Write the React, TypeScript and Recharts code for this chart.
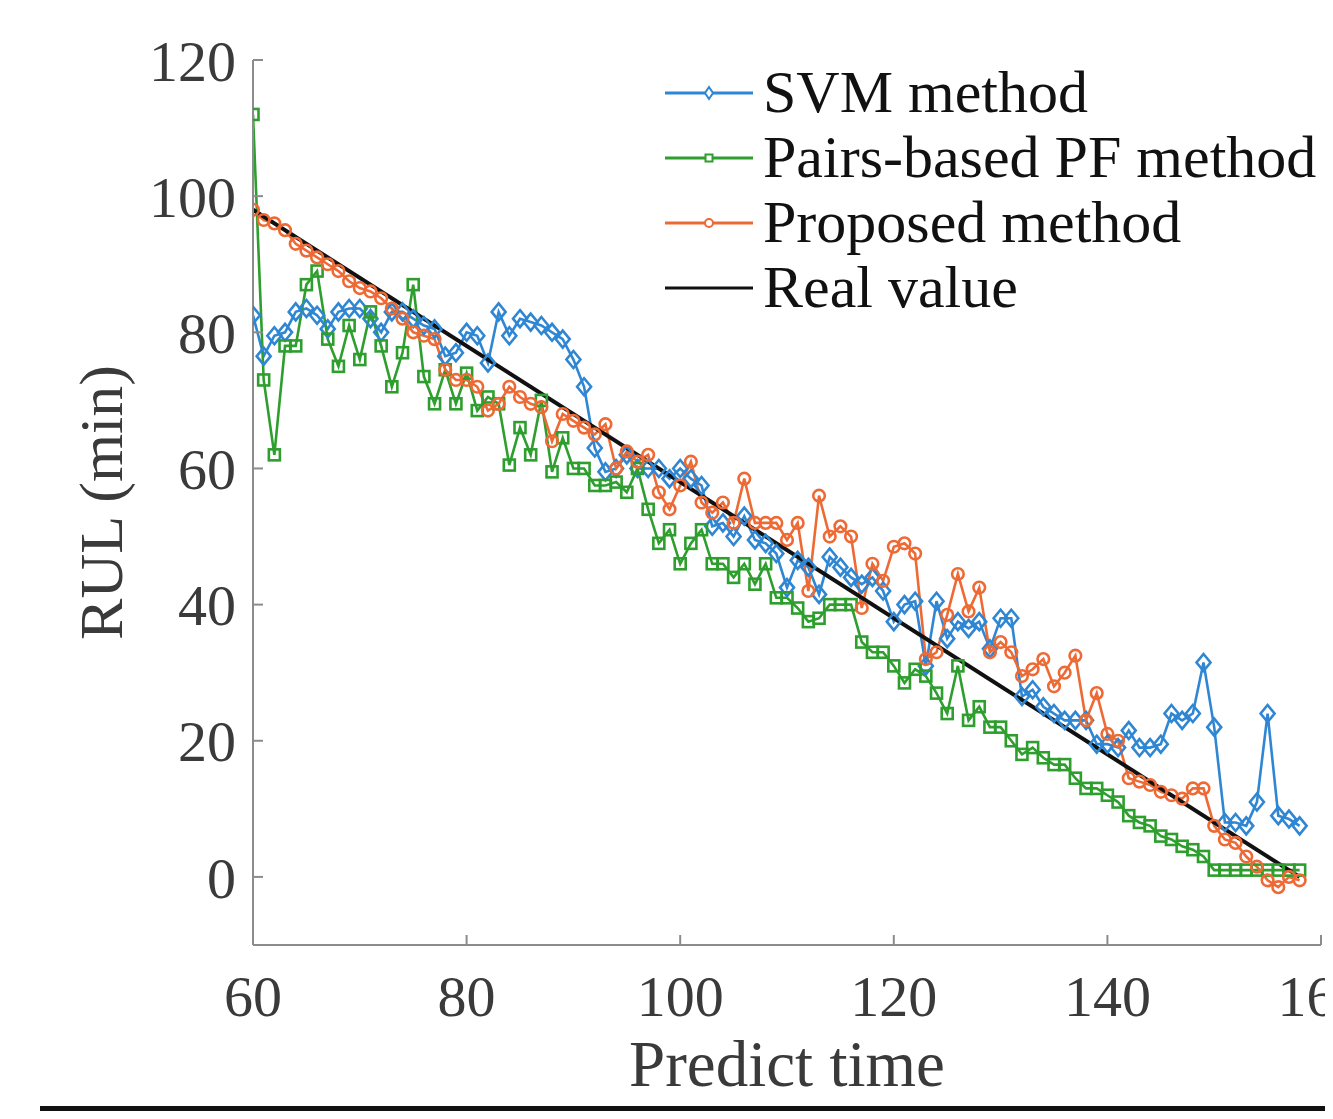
import { LineChart, Line, XAxis, YAxis, Legend, Label } from 'recharts';

const FONT = "'Liberation Serif', 'Times New Roman', serif";

const startTime = 60;
const xTicks = [60, 80, 100, 120, 140, 160];
const yTicks = [0, 20, 40, 60, 80, 100, 120];

// RUL predictions, one value per predict time starting at 60
const svmValues = [
  82.5, 76.5, 79.5, 80, 83, 83.5, 82.5, 80.5, 83, 83.5,
  83.5, 82, 80, 83, 83, 82, 81, 80.5, 76.5, 77,
  80, 79.5, 75.5, 83, 79.5, 82, 81.5, 81, 80, 79,
  76, 72, 63, 59.5, 60, 62, 60, 60, 60, 58.5,
  60, 58.5, 57.5, 51.5, 52, 50, 53, 49.5, 49, 47.5,
  42.5, 46.5, 45.5, 41.5, 47, 45.5, 44, 43, 44, 42,
  37.5, 40, 40.5, 31, 40.5, 35, 37.5, 36.5, 37.5, 33.5,
  38, 38, 26.5, 27.5, 25, 24, 23, 23, 23, 19.5,
  19.5, 19, 21.5, 19, 19, 19.5, 24, 23, 24, 31.5,
  22, 8, 8, 7.5, 11, 24, 9, 8.5, 7.5,
];

const pfValues = [
  112, 73, 62, 78, 78, 87, 89, 79, 75, 81,
  76, 83, 78, 72, 77, 87, 73.5, 69.5, 74.5, 69.5,
  74, 68.5, 70.5, 69.5, 60.5, 66, 62, 70, 59.5, 64.5,
  60, 60, 57.5, 57.5, 58, 56.5, 60, 54, 49, 51,
  46, 49, 51, 46, 46, 44, 46, 43, 46, 41,
  41, 39.5, 37.5, 38, 40, 40, 40, 34.5, 33, 33,
  31, 28.5, 30.5, 29.5, 27, 24, 31, 23, 25, 22,
  22, 20, 18, 19, 17.5, 16.5, 16.5, 14.5, 13, 13,
  12, 11, 9, 8, 7.5, 6, 5.5, 4.5, 4, 3,
  1, 1, 1, 1, 1, 1, 1, 1, 1,
];

const proposedValues = [
  98, 96.5, 96, 95, 93, 92, 91, 90, 89, 87.5,
  86.5, 86, 85, 83.5, 82, 80, 79.5, 79, 74.5, 73,
  73, 72, 68.5, 69.5, 72, 70.5, 69.5, 69, 64, 68,
  67, 66, 65, 66.5, 60, 62.5, 61, 62, 56.5, 54,
  57.5, 61, 55, 53.5, 55, 52, 58.5, 52, 52, 52,
  49.5, 52, 42, 56, 50, 51.5, 50, 39.5, 46, 43.5,
  48.5, 49, 47.5, 32, 33, 38.5, 44.5, 39, 42.5, 33,
  34.5, 33, 29.5, 30.5, 32, 28, 30, 32.5, 23, 27,
  21, 20, 14.5, 14, 13.5, 12.5, 12, 11.5, 13, 13,
  7.5, 5.5, 5, 3, 1.5, -0.5, -1.5, 0, -0.5,
];

// real RUL is a straight line between these two points
const realTimes = [60, 158];
const realValues = [98, 0];

const SVM_COLOR = '#2f86d3';
const PF_COLOR = '#2e9e2e';
const PROPOSED_COLOR = '#ee6a35';
const AXIS_COLOR = '#8c8c8c';
const TICK_COLOR = '#3a3a3a';

const rows = svmValues.map((v, i) => ({
  t: startTime + i,
  svm: v,
  pf: pfValues[i],
  proposed: proposedValues[i],
}));
const realRows = realTimes.map((t, i) => ({ t, real: realValues[i] }));

function diamond(color: string, w: number, h: number) {
  return (props: any) => {
    const { cx, cy, index } = props;
    if (cx == null || cy == null) return <g key={`d${index}`} />;
    return (
      <path
        key={`d${index}`}
        d={`M${cx},${cy - h}L${cx + w},${cy}L${cx},${cy + h}L${cx - w},${cy}Z`}
        fill="none"
        stroke={color}
        strokeWidth={2.6}
      />
    );
  };
}

function square(color: string, s: number) {
  return (props: any) => {
    const { cx, cy, index } = props;
    if (cx == null || cy == null) return <g key={`s${index}`} />;
    return <rect key={`s${index}`} x={cx - s} y={cy - s} width={s * 2} height={s * 2} fill="none" stroke={color} strokeWidth={2.6} />;
  };
}

function circle(color: string, r: number) {
  return (props: any) => {
    const { cx, cy, index } = props;
    if (cx == null || cy == null) return <g key={`c${index}`} />;
    return <circle key={`c${index}`} cx={cx} cy={cy} r={r} fill="none" stroke={color} strokeWidth={2.6} />;
  };
}

const legendItems = [
  { name: 'SVM method', color: SVM_COLOR, marker: 'diamond' },
  { name: 'Pairs-based PF method', color: PF_COLOR, marker: 'square' },
  { name: 'Proposed method', color: PROPOSED_COLOR, marker: 'circle' },
  { name: 'Real value', color: '#111', marker: 'none' },
];

function LegendBox() {
  return (
    <div style={{ fontFamily: FONT, fontSize: 60, color: '#111' }}>
      {legendItems.map((item) => (
        <div key={item.name} style={{ display: 'flex', alignItems: 'center', height: 65, whiteSpace: 'nowrap' }}>
          <svg width={88} height={20} style={{ marginRight: 10 }}>
            <line x1={0} y1={10} x2={88} y2={10} stroke={item.color} strokeWidth={3} />
            {item.marker === 'diamond' && (
              <path d="M44,4L48,10L44,16L40,10Z" fill="white" stroke={item.color} strokeWidth={2} />
            )}
            {item.marker === 'square' && (
              <rect x={40.5} y={6.5} width={7} height={7} fill="white" stroke={item.color} strokeWidth={2} />
            )}
            {item.marker === 'circle' && <circle cx={44} cy={10} r={4} fill="white" stroke={item.color} strokeWidth={2} />}
          </svg>
          <span>{item.name}</span>
        </div>
      ))}
    </div>
  );
}

export default function App() {
  return (
    <div style={{ position: 'relative', width: 1325, height: 1111, overflow: 'hidden', marginBottom: -8, background: '#fff' }}>
      <LineChart
        width={1400}
        height={1111}
        data={rows}
        margin={{ top: 52, right: 87, left: 244, bottom: 173 }}
      >
        <XAxis
          type="number"
          dataKey="t"
          domain={[60, 160]}
          ticks={xTicks}
          allowDataOverflow
          height={1}
          tickSize={-10}
          tickMargin={40}
          axisLine={{ stroke: AXIS_COLOR, strokeWidth: 2 }}
          tickLine={{ stroke: AXIS_COLOR, strokeWidth: 2 }}
          tick={{ fill: TICK_COLOR, fontSize: 58, fontFamily: FONT }}
        >
          <Label
            content={(p: any) => {
              const vb = p.viewBox;
              return (
                <text x={vb.x + vb.width / 2} y={vb.y + 141} textAnchor="middle" fontSize={65} fontFamily={FONT} fill={TICK_COLOR}>
                  Predict time
                </text>
              );
            }}
          />
        </XAxis>
        <YAxis
          type="number"
          domain={[-10, 120]}
          ticks={yTicks}
          allowDataOverflow
          width={1}
          tickSize={-10}
          tickMargin={27}
          axisLine={{ stroke: AXIS_COLOR, strokeWidth: 2 }}
          tickLine={{ stroke: AXIS_COLOR, strokeWidth: 2 }}
          tick={{ fill: TICK_COLOR, fontSize: 58, fontFamily: FONT }}
        >
          <Label
            content={(p: any) => {
              const vb = p.viewBox;
              const x = vb.x - 130;
              const y = vb.y + vb.height / 2;
              return (
                <text x={x} y={y} transform={`rotate(-90 ${x} ${y})`} textAnchor="middle" fontSize={62} fontFamily={FONT} fill={TICK_COLOR}>
                  RUL (min)
                </text>
              );
            }}
          />
        </YAxis>
        <Legend
          layout="vertical"
          align="center"
          verticalAlign="middle"
          wrapperStyle={{ top: 52, left: 657, width: 'auto' }}
          content={() => <LegendBox />}
        />
        <Line
          name="SVM method"
          dataKey="svm"
          stroke={SVM_COLOR}
          strokeWidth={2.6}
          dot={diamond(SVM_COLOR, 7, 8.5)}
          isAnimationActive={false}
        />
        <Line
          name="Pairs-based PF method"
          dataKey="pf"
          stroke={PF_COLOR}
          strokeWidth={2.6}
          dot={square(PF_COLOR, 5.5)}
          isAnimationActive={false}
        />
        <Line
          name="Proposed method"
          dataKey="proposed"
          stroke={PROPOSED_COLOR}
          strokeWidth={2.6}
          dot={circle(PROPOSED_COLOR, 5.8)}
          isAnimationActive={false}
        />
        <Line
          name="Real value"
          data={realRows}
          dataKey="real"
          stroke="#111"
          strokeWidth={4}
          dot={false}
          isAnimationActive={false}
        />
      </LineChart>
      <div style={{ position: 'absolute', left: 32, right: 0, top: 1098, height: 9, background: '#111', zIndex: 10 }} />
    </div>
  );
}
